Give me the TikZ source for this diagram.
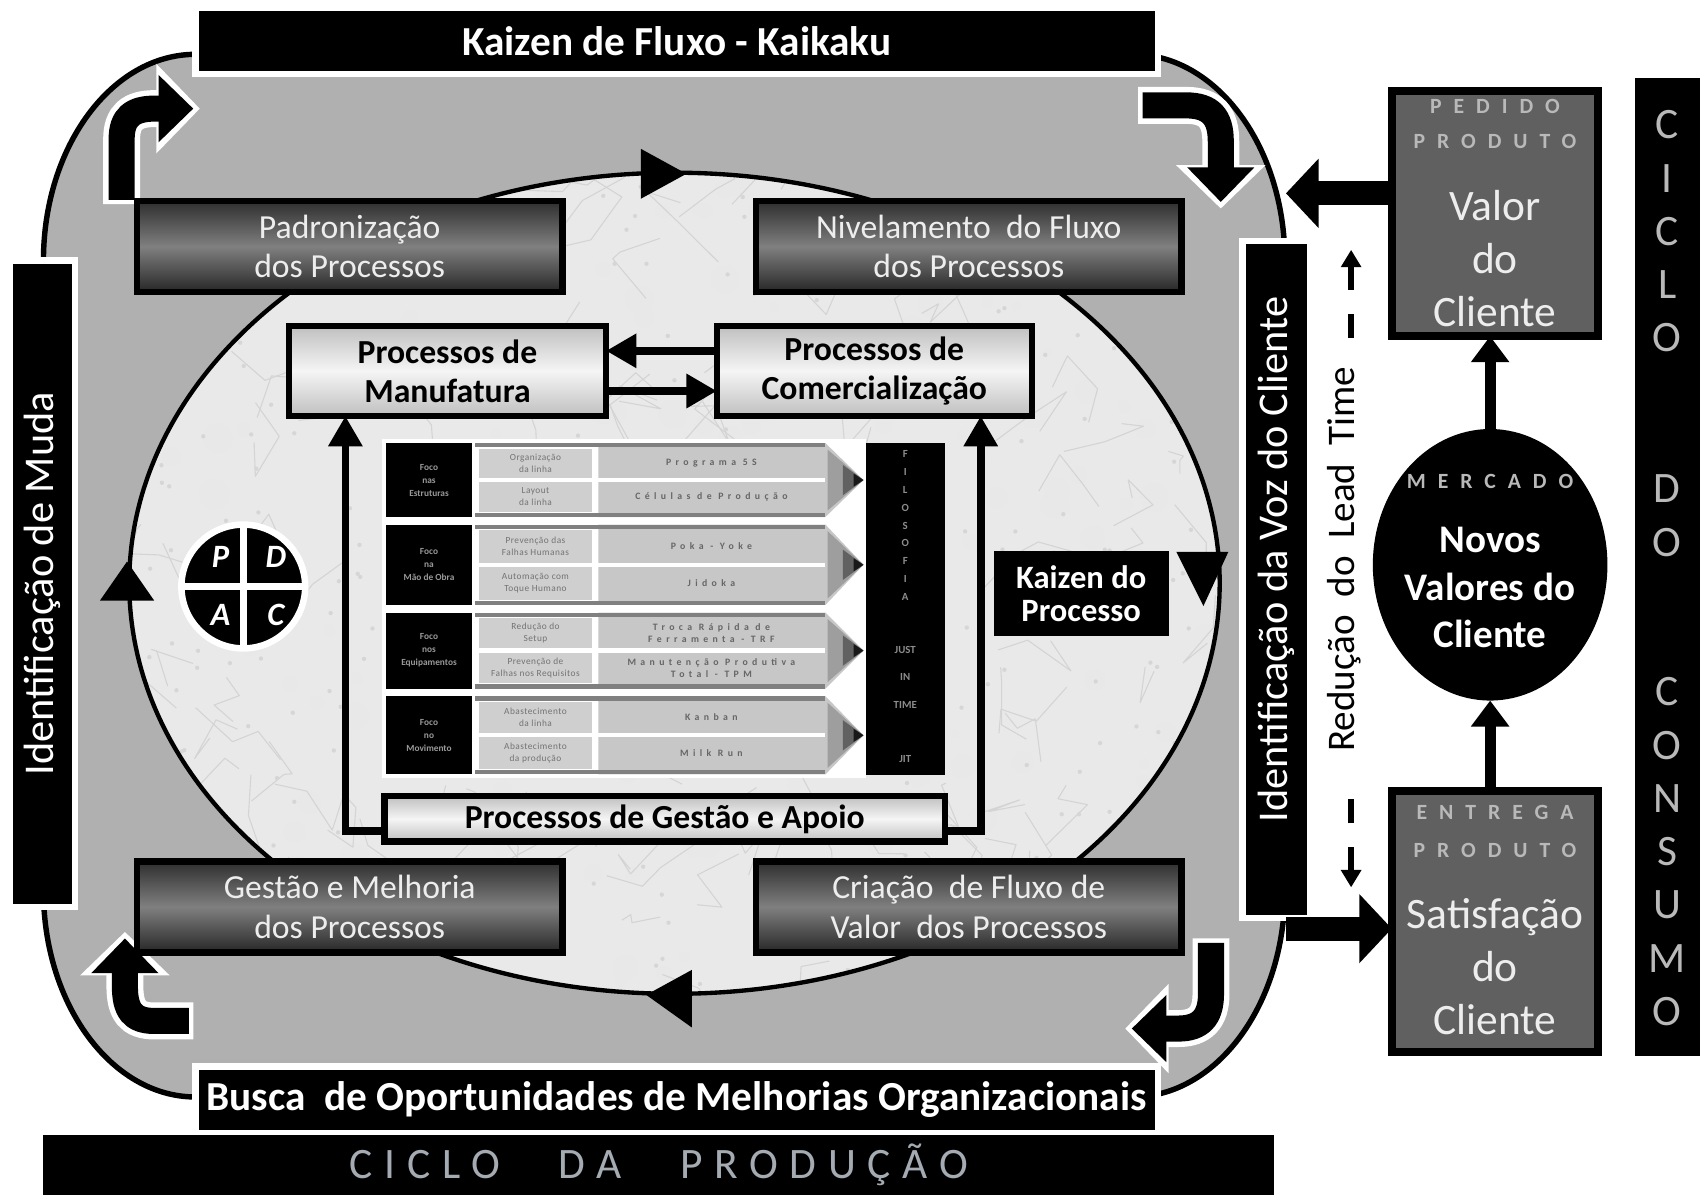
\documentclass[tikz,border=0pt]{standalone}
\usepackage{fontspec}
\setmainfont{Carlito}
\usetikzlibrary{arrows.meta,shapes.geometric}
\definecolor{shapegray}{HTML}{B0B0B0}
\definecolor{marblec}{HTML}{E9E9E9}
\definecolor{valboxc}{HTML}{606060}
\definecolor{lighttxt}{HTML}{EDEDED}
\definecolor{spacedtxt}{HTML}{B9B9B9}
\definecolor{ciclotxt}{HTML}{A4ABB3}
\newcommand{\fsz}[2]{\fontsize{#1}{#2}\selectfont}
\newcommand{\lsp}[1]{\addfontfeature{LetterSpace=#1}}
\newcommand{\trow}[8]{%
 \pgfmathsetmacro{\rowm}{(#2+#3)/2}%
 \pgfmathsetmacro{\rowa}{(#2+5+\rowm-2)/2}%
 \pgfmathsetmacro{\rowb}{(\rowm+2+#3-5)/2}%
 \fill[black] (355,#2) rectangle (435,#3);
 \fill[black!22] (551,#2) -- (760,#2) -- (795,\rowm) -- (760,#3) -- (551,#3) -- cycle;
 \fill[black!38] (762,#2+6) -- (795,\rowm) -- (762,#3-6) -- cycle;
 \fill[black!62] (776,\rowm-14) -- (795,\rowm) -- (776,\rowm+14) -- cycle;
 \fill[black!90] (786,\rowm-6) -- (795,\rowm) -- (786,\rowm+6) -- cycle;
 \fill[black!19] (441,#2+5) rectangle (545,\rowm-2);
 \fill[black!19] (441,\rowm+2) rectangle (545,#3-5);
 \fill[white] (551,\rowm-2) rectangle (760,\rowm+2);
 \fill[black!50] (437,#2) rectangle (760,#2+4);
 \fill[black!50] (437,#3-4) rectangle (760,#3);
 \node[tleft] (#1-l) at (395,\rowm) {#4};
 \node[tmid] (#1-a) at (493,\rowa) {#5};
 \node[tmid] (#1-b) at (493,\rowb) {#6};
 \node[tright] (#1-c) at (655,\rowa) {#7};
 \node[tright] (#1-d) at (655,\rowb) {#8};
}
\begin{document}
\begin{tikzpicture}[x=0.5pt,y=-0.5pt,
  every node/.style={inner sep=0pt, outer sep=0pt},
  wbox/.style={fill=black, draw=white, line width=3pt, text=white},
  darkbox/.style={draw=black, line width=3pt, top color=black!82, bottom color=black!85, middle color=black!50, text=lighttxt, align=center, font=\fsz{15.5}{18}, minimum width=196pt, minimum height=42pt},
  lightbox/.style={draw=black, line width=3pt, top color=black!25, bottom color=black!25, middle color=black!4, text=black, align=center, font=\bfseries\fsz{15.5}{18}},
  valbox/.style={draw=black, line width=3.5pt, fill=valboxc, minimum width=95pt},
  conn/.style={line width=3.5pt, -{Triangle[length=14pt,width=15pt]}},
  bigconn/.style={line width=11pt, -{Triangle[length=15pt,width=31pt]}},
  mconn/.style={line width=5pt, -{Triangle[length=12pt,width=17pt]}},
  ltconn/.style={line width=2.5pt, dash pattern=on 11pt off 11pt, {Triangle[length=8pt,width=9pt]}-},
  cornerw/.style={draw=white, line width=17pt, -{Triangle[length=20pt,width=40pt]}, shorten >=-3pt, shorten <=-2pt},
  cornerb/.style={draw=black, line width=12pt, -{Triangle[length=16pt,width=30pt]}},
  spaced/.style={text=spacedtxt, font=\bfseries\fsz{10}{12}\lsp{55}},
  tleft/.style={text=black!40, font=\bfseries\fsz{4.3}{6}, align=center},
  tmid/.style={text=black!55, font=\fsz{4.3}{5.5}\lsp{5}, align=center},
  tright/.style={text=black!60, font=\bfseries\fsz{4.5}{5.5}\lsp{45}, align=center},
]
\fill[white] (0,0) rectangle (1568,1100);
\useasboundingbox (0,0) rectangle (1568,1100);

% outer gray production cycle
\filldraw[fill=shapegray, draw=black, line width=2.5pt] (180,50) -- (1043,50) .. controls (1120,50) and (1183,135) .. (1183,240) -- (1183,820) .. controls (1183,925) and (1120,1010) .. (1043,1010) -- (180,1010) .. controls (103,1010) and (40,925) .. (40,820) -- (40,240) .. controls (40,135) and (103,50) .. (180,50) -- cycle;

% marble ellipse
\fill[marblec] (621,537) ellipse [x radius=502, y radius=378];
\begin{scope}
 \clip (621,537) ellipse [x radius=502, y radius=378];
 \pgfmathsetseed{3}
 \foreach \i in {1,...,220}{
   \pgfmathsetmacro{\xa}{110+rnd*1020}
   \pgfmathsetmacro{\ya}{150+rnd*780}
   \fill[black!9] (\xa,\ya) circle[radius={4+rnd*10}];
 }
 \foreach \i in {1,...,170}{
   \pgfmathsetmacro{\xa}{110+rnd*1020}
   \pgfmathsetmacro{\ya}{150+rnd*780}
   \draw[black!17, line width=0.5pt, line join=round] (\xa,\ya) -- ++({rand*40},{rand*40}) -- ++({rand*40},{rand*40}) -- ++({rand*40},{rand*40});
 }
 \foreach \i in {1,...,300}{
   \pgfmathsetmacro{\xa}{110+rnd*1020}
   \pgfmathsetmacro{\ya}{150+rnd*780}
   \fill[black!16] (\xa,\ya) circle[radius=2];
 }
\end{scope}
\draw[black, line width=2pt] (621,537) ellipse [x radius=502, y radius=378];
% arrowheads on the ellipse
\fill (590,137) -- (632,160) -- (590,183) -- cycle;
\fill (1083,508) -- (1108,558) -- (1131,508) -- cycle;
\fill (637,893) -- (595,916) -- (637,946) -- cycle;
\fill (92,553) -- (117,517) -- (142,553) -- cycle;

% corner arrows
\draw[cornerw] (112,184) -- (112,128) .. controls (112,108) and (122,100) .. (142,100) -- (178,100);
\draw[cornerb] (112,184) -- (112,128) .. controls (112,108) and (122,100) .. (142,100) -- (178,100);
\draw[cornerw] (1052,97) -- (1092,97) .. controls (1115,97) and (1124,108) .. (1124,130) -- (1124,186);
\draw[cornerb] (1052,97) -- (1092,97) .. controls (1115,97) and (1124,108) .. (1124,130) -- (1124,186);
\draw[cornerw] (1115,868) -- (1115,915) .. controls (1115,937) and (1105,947) .. (1085,947) -- (1042,947);
\draw[cornerb] (1115,868) -- (1115,915) .. controls (1115,937) and (1105,947) .. (1085,947) -- (1042,947);
\draw[cornerw] (174,940) -- (142,940) .. controls (122,940) and (115,930) .. (115,908) -- (115,864);
\draw[cornerb] (174,940) -- (142,940) .. controls (122,940) and (115,930) .. (115,908) -- (115,864);

% dark boxes
\node[darkbox] (pad) at (322,227) {Padronização\\dos Processos};
\node[darkbox] (niv) at (892,227) {Nivelamento\ \ do Fluxo\\dos Processos};
\node[darkbox] (gmp) at (322,835) {Gestão e Melhoria\\dos Processos};
\node[darkbox] (cfv) at (892,835) {Criação\ \ de Fluxo de\\Valor\ \ dos Processos};

% process boxes
\node[lightbox, minimum width=146pt, minimum height=41.5pt] (man) at (412,341.5) {Processos de\\Manufatura};
\node[lightbox, minimum width=145pt, minimum height=41.5pt] (com) at (805,341.5) {Processos de\\Comercialização};
\draw[conn] ([yshift=9.25pt]com.west) -- ([yshift=9.25pt]man.east);
\draw[conn] ([yshift=-9.25pt]man.east) -- ([yshift=-9.25pt]com.west);

% table
\fill[white] (352,404) rectangle (797,716);
\trow{r1}{408}{476}{Foco\\nas\\Estruturas}{Organização\\da linha}{Layout\\da linha}{Programa 5S}{Células de Produção}
\trow{r2}{483}{557}{Foco\\na\\Mão de Obra}{Prevenção das\\Falhas Humanas}{Automação com\\Toque Humano}{Poka - Yoke}{Jidoka}
\trow{r3}{564}{634}{Foco\\nos\\Equipamentos}{Redução do\\Setup}{Prevenção de\\Falhas nos Requisitos}{Troca Rápida de\\Ferramenta - TRF}{Manutenção Produtiva\\Total - TPM}
\trow{r4}{641}{713}{Foco\\no\\Movimento}{Abastecimento\\da linha}{Abastecimento\\da produção}{Kanban}{Milk Run}
\node[fill=black, minimum width=36.5pt, minimum height=153pt] (jit) at (833.5,561) {};
\node[anchor=north, text=black!45, font=\bfseries\fsz{5}{8.2}, align=center] (jittxt) at (833.5,415) {F\\I\\L\\O\\S\\O\\F\\I\\A\\[16.3pt]JUST\\[4.3pt]IN\\[4.8pt]TIME\\[16.3pt]JIT};

% management box and frame
\node[lightbox, minimum width=258pt, minimum height=21pt] (ga) at (612,754) {Processos de Gestão e Apoio};
\coordinate (fl) at (318,765);
\coordinate (fr) at (903,765);
\draw[conn] (ga.west |- fl) -- (fl) -- (fl |- man.south);
\draw[conn] (ga.east |- fr) -- (fr) -- (fr |- com.south);

% PDCA
\node[circle, fill=black, draw=white, line width=3pt, minimum size=57pt] (pdca) at (224,540) {};
\draw[white, line width=3pt] (pdca.north) -- (pdca.south) (pdca.west) -- (pdca.east);
\node[text=white, font=\bfseries\itshape\fsz{15}{15}] (pp) at (203,513) {P};
\node[text=white, font=\bfseries\itshape\fsz{15}{15}] (pd) at (254,513) {D};
\node[text=white, font=\bfseries\itshape\fsz{15}{15}] (pa) at (203,566) {A};
\node[text=white, font=\bfseries\itshape\fsz{15}{15}] (pc) at (254,566) {C};

% Kaizen do processo
\node[fill=black, text=white, minimum width=80.5pt, minimum height=39.5pt, align=center, font=\bfseries\fsz{15}{15.5}] (kp) at (995.5,546.5) {Kaizen do\\Processo};

% frame labels
\node[wbox, minimum width=443pt, minimum height=30.5pt, font=\bfseries\fsz{19}{22}] (kaikaku) at (623,37.5) {Kaizen de Fluxo - Kaikaku};
\node[wbox, minimum width=443pt, minimum height=30.5pt, font=\bfseries\fsz{19}{22}] (busca) at (623,1012.5) {Busca\ \ de Oportunidades de Melhorias Organizacionais};
\node[fill=black, minimum width=566.5pt, minimum height=27.5pt, text=ciclotxt, font=\fsz{20}{22}\lsp{27}] (cprod) at (606.5,1072.5) {CICLO\hspace{27pt}DA\hspace{27pt}PRODUÇÃO};
\node[wbox, rotate=90, minimum width=297.5pt, minimum height=30pt, font=\fsz{19.5}{22}] (muda) at (39,537.5) {Identificação de Muda};

% customer side
\node[wbox, minimum width=31pt, minimum height=311.5pt] (voz) at (1175,533.5) {};
\node[rotate=90, text=white, font=\fsz{19.5}{22}] (voztxt) at (1175,515) {Identificação da Voz do Cliente};
\node[rotate=90, font=\fsz{18}{20}] (lt) at (1238,515) {Redução\ \ do\ \ Lead\ \ Time};
\coordinate (lta) at (1244,332);
\coordinate (ltb) at (1244,230);
\coordinate (ltc) at (1244,716);
\coordinate (ltd) at (1244,817);
\draw[ltconn] (ltb) -- (lta);
\draw[ltconn] (ltd) -- (ltc);

\node[valbox, minimum height=113pt] (valor) at (1376.5,196.5) {};
\node[spaced] (pedido) at (1376.5,98) {PEDIDO};
\node[spaced] (prod1) at (1376.5,130) {PRODUTO};
\node[text=lighttxt, font=\fsz{20}{24.5}, align=center] (valtxt) at (1376.5,238) {Valor\\do\\Cliente};

\node[valbox, minimum height=120pt] (sat) at (1376.5,848.5) {};
\node[spaced] (entrega) at (1376.5,748) {ENTREGA};
\node[spaced] (prod2) at (1376.5,783) {PRODUTO};
\node[text=lighttxt, font=\fsz{20}{24.5}, align=center] (sattxt) at (1376.5,890) {Satisfação\\do\\Cliente};

\node[ellipse, fill=black, minimum width=108pt, minimum height=125pt] (merc) at (1372,520) {};
\node[spaced] (mercado) at (1372,443) {MERCADO};
\node[text=white, font=\bfseries\fsz{18}{22}, align=center] (novos) at (1372,541) {Novos\\Valores do\\Cliente};

\coordinate (vin) at (1184,178);
\coordinate (sin) at (1184,855);
\draw[bigconn] (valor.west |- vin) -- (vin);
\draw[bigconn] (sin) -- (sat.west |- sin);
\draw[mconn] (merc.north) -- (merc.north |- valor.south);
\draw[mconn] (merc.south |- sat.north) -- (merc.south);

\node[fill=black, minimum width=30pt, minimum height=450pt] (consumo) at (1535,522) {};
\node[anchor=north, text=spacedtxt, font=\fsz{20}{24.5}, align=center] (consumotxt) at (1535,102) {C\\I\\C\\L\\O\\[45pt]D\\O\\[44.5pt]C\\O\\N\\S\\U\\M\\O};
\end{tikzpicture}
\end{document}
